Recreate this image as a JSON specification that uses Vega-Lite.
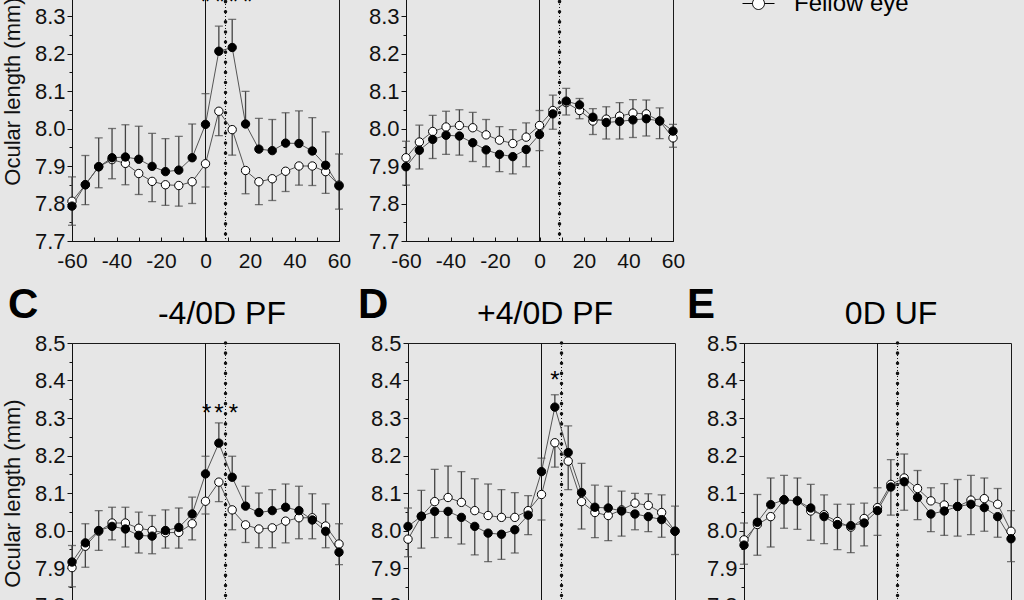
{
"$schema": "https://vega.github.io/schema/vega-lite/v6.json",
"background": "#e6e6e6",
"padding": {"left": 0, "top": -71, "right": 0, "bottom": 0},
"autosize": {"type": "pad"},
"bounds": "flush",
"spacing": 402,
"config": {
  "font": "Liberation Sans",
  "view": {"stroke": "#1a1a1a", "strokeWidth": 1},
  "axis": {"grid": false, "labelOverlap": false, "labelBound": false, "labelFlush": false, "tickCount": 50, "domainColor": "#111", "tickColor": "#111", "labelColor": "#111", "titleColor": "#111", "labelFont": "Liberation Sans", "titleFont": "Liberation Sans", "titleFontWeight": "normal", "domainWidth": 1, "tickWidth": 1}
},
"datasets": {
  "pts": [
    {"p":"A","s":"Fellow eye","x":-60,"m":7.806,"e":7.742},{"p":"A","s":"Fellow eye","x":-54,"m":7.850,"e":7.797},{"p":"A","s":"Fellow eye","x":-48,"m":7.898,"e":7.842},{"p":"A","s":"Fellow eye","x":-42,"m":7.917,"e":7.866},{"p":"A","s":"Fellow eye","x":-36,"m":7.907,"e":7.850},{"p":"A","s":"Fellow eye","x":-30,"m":7.880,"e":7.824},{"p":"A","s":"Fellow eye","x":-24,"m":7.859,"e":7.805},{"p":"A","s":"Fellow eye","x":-18,"m":7.850,"e":7.795},{"p":"A","s":"Fellow eye","x":-12,"m":7.848,"e":7.793},{"p":"A","s":"Fellow eye","x":-6,"m":7.858,"e":7.800},{"p":"A","s":"Fellow eye","x":0,"m":7.906,"e":7.844},{"p":"A","s":"Fellow eye","x":6,"m":8.046,"e":7.981},{"p":"A","s":"Fellow eye","x":12,"m":7.997,"e":7.929},{"p":"A","s":"Fellow eye","x":18,"m":7.888,"e":7.826},{"p":"A","s":"Fellow eye","x":24,"m":7.858,"e":7.797},{"p":"A","s":"Fellow eye","x":30,"m":7.866,"e":7.808},{"p":"A","s":"Fellow eye","x":36,"m":7.886,"e":7.832},{"p":"A","s":"Fellow eye","x":42,"m":7.900,"e":7.849},{"p":"A","s":"Fellow eye","x":48,"m":7.900,"e":7.848},{"p":"A","s":"Fellow eye","x":54,"m":7.885,"e":7.827},{"p":"A","s":"Fellow eye","x":60,"m":7.849,"e":7.785},
    {"p":"A","s":"Treated eye","x":-60,"m":7.793,"e":7.871},{"p":"A","s":"Treated eye","x":-54,"m":7.850,"e":7.928},{"p":"A","s":"Treated eye","x":-48,"m":7.898,"e":7.975},{"p":"A","s":"Treated eye","x":-42,"m":7.922,"e":8.000},{"p":"A","s":"Treated eye","x":-36,"m":7.924,"e":8.010},{"p":"A","s":"Treated eye","x":-30,"m":7.918,"e":8.006},{"p":"A","s":"Treated eye","x":-24,"m":7.899,"e":7.987},{"p":"A","s":"Treated eye","x":-18,"m":7.885,"e":7.973},{"p":"A","s":"Treated eye","x":-12,"m":7.889,"e":7.979},{"p":"A","s":"Treated eye","x":-6,"m":7.922,"e":8.012},{"p":"A","s":"Treated eye","x":0,"m":8.011,"e":8.093},{"p":"A","s":"Treated eye","x":6,"m":8.206,"e":8.273},{"p":"A","s":"Treated eye","x":12,"m":8.216,"e":8.291},{"p":"A","s":"Treated eye","x":18,"m":8.012,"e":8.099},{"p":"A","s":"Treated eye","x":24,"m":7.945,"e":8.027},{"p":"A","s":"Treated eye","x":30,"m":7.941,"e":8.024},{"p":"A","s":"Treated eye","x":36,"m":7.961,"e":8.042},{"p":"A","s":"Treated eye","x":42,"m":7.960,"e":8.047},{"p":"A","s":"Treated eye","x":48,"m":7.940,"e":8.029},{"p":"A","s":"Treated eye","x":54,"m":7.902,"e":7.991},{"p":"A","s":"Treated eye","x":60,"m":7.847,"e":7.932},
    {"p":"B","s":"Fellow eye","x":-60,"m":7.922,"e":7.966},{"p":"B","s":"Fellow eye","x":-54,"m":7.964,"e":8.009},{"p":"B","s":"Fellow eye","x":-48,"m":7.992,"e":8.035},{"p":"B","s":"Fellow eye","x":-42,"m":8.004,"e":8.046},{"p":"B","s":"Fellow eye","x":-36,"m":8.008,"e":8.050},{"p":"B","s":"Fellow eye","x":-30,"m":8.002,"e":8.043},{"p":"B","s":"Fellow eye","x":-24,"m":7.983,"e":8.024},{"p":"B","s":"Fellow eye","x":-18,"m":7.969,"e":8.005},{"p":"B","s":"Fellow eye","x":-12,"m":7.960,"e":7.997},{"p":"B","s":"Fellow eye","x":-6,"m":7.977,"e":8.015},{"p":"B","s":"Fellow eye","x":0,"m":8.008,"e":8.048},{"p":"B","s":"Fellow eye","x":6,"m":8.048,"e":8.089},{"p":"B","s":"Fellow eye","x":12,"m":8.069,"e":8.107},{"p":"B","s":"Fellow eye","x":18,"m":8.048,"e":8.080},{"p":"B","s":"Fellow eye","x":24,"m":8.020,"e":8.053},{"p":"B","s":"Fellow eye","x":30,"m":8.025,"e":8.058},{"p":"B","s":"Fellow eye","x":36,"m":8.033,"e":8.069},{"p":"B","s":"Fellow eye","x":42,"m":8.041,"e":8.077},{"p":"B","s":"Fellow eye","x":48,"m":8.039,"e":8.076},{"p":"B","s":"Fellow eye","x":54,"m":8.020,"e":8.055},{"p":"B","s":"Fellow eye","x":60,"m":7.975,"e":8.011},
    {"p":"B","s":"Treated eye","x":-60,"m":7.898,"e":7.849},{"p":"B","s":"Treated eye","x":-54,"m":7.942,"e":7.892},{"p":"B","s":"Treated eye","x":-48,"m":7.971,"e":7.920},{"p":"B","s":"Treated eye","x":-42,"m":7.982,"e":7.931},{"p":"B","s":"Treated eye","x":-36,"m":7.980,"e":7.929},{"p":"B","s":"Treated eye","x":-30,"m":7.962,"e":7.912},{"p":"B","s":"Treated eye","x":-24,"m":7.943,"e":7.898},{"p":"B","s":"Treated eye","x":-18,"m":7.931,"e":7.885},{"p":"B","s":"Treated eye","x":-12,"m":7.925,"e":7.879},{"p":"B","s":"Treated eye","x":-6,"m":7.944,"e":7.898},{"p":"B","s":"Treated eye","x":0,"m":7.984,"e":7.941},{"p":"B","s":"Treated eye","x":6,"m":8.039,"e":7.998},{"p":"B","s":"Treated eye","x":12,"m":8.073,"e":8.036},{"p":"B","s":"Treated eye","x":18,"m":8.063,"e":8.026},{"p":"B","s":"Treated eye","x":24,"m":8.030,"e":7.984},{"p":"B","s":"Treated eye","x":30,"m":8.016,"e":7.972},{"p":"B","s":"Treated eye","x":36,"m":8.019,"e":7.972},{"p":"B","s":"Treated eye","x":42,"m":8.023,"e":7.976},{"p":"B","s":"Treated eye","x":48,"m":8.026,"e":7.980},{"p":"B","s":"Treated eye","x":54,"m":8.020,"e":7.973},{"p":"B","s":"Treated eye","x":60,"m":7.993,"e":7.950},
    {"p":"C","s":"Fellow eye","x":-60,"m":7.901,"e":7.850},{"p":"C","s":"Fellow eye","x":-54,"m":7.958,"e":7.902},{"p":"C","s":"Fellow eye","x":-48,"m":7.998,"e":7.947},{"p":"C","s":"Fellow eye","x":-42,"m":8.020,"e":8.062},{"p":"C","s":"Fellow eye","x":-36,"m":8.020,"e":8.062},{"p":"C","s":"Fellow eye","x":-30,"m":8.006,"e":8.049},{"p":"C","s":"Fellow eye","x":-24,"m":8.000,"e":8.040},{"p":"C","s":"Fellow eye","x":-18,"m":7.994,"e":7.953},{"p":"C","s":"Fellow eye","x":-12,"m":7.995,"e":7.953},{"p":"C","s":"Fellow eye","x":-6,"m":8.018,"e":7.975},{"p":"C","s":"Fellow eye","x":0,"m":8.078,"e":8.044},{"p":"C","s":"Fellow eye","x":6,"m":8.129,"e":8.077},{"p":"C","s":"Fellow eye","x":12,"m":8.055,"e":8.002},{"p":"C","s":"Fellow eye","x":18,"m":8.015,"e":7.968},{"p":"C","s":"Fellow eye","x":24,"m":8.004,"e":7.954},{"p":"C","s":"Fellow eye","x":30,"m":8.007,"e":7.954},{"p":"C","s":"Fellow eye","x":36,"m":8.025,"e":7.967},{"p":"C","s":"Fellow eye","x":42,"m":8.034,"e":7.978},{"p":"C","s":"Fellow eye","x":48,"m":8.034,"e":8.098},{"p":"C","s":"Fellow eye","x":54,"m":8.012,"e":8.071},{"p":"C","s":"Fellow eye","x":60,"m":7.964,"e":8.018},
    {"p":"C","s":"Treated eye","x":-60,"m":7.916,"e":7.960},{"p":"C","s":"Treated eye","x":-54,"m":7.967,"e":8.018},{"p":"C","s":"Treated eye","x":-48,"m":8.000,"e":8.053},{"p":"C","s":"Treated eye","x":-42,"m":8.011,"e":7.975},{"p":"C","s":"Treated eye","x":-36,"m":8.004,"e":7.956},{"p":"C","s":"Treated eye","x":-30,"m":7.987,"e":7.940},{"p":"C","s":"Treated eye","x":-24,"m":7.985,"e":7.938},{"p":"C","s":"Treated eye","x":-18,"m":8.000,"e":8.055},{"p":"C","s":"Treated eye","x":-12,"m":8.008,"e":8.060},{"p":"C","s":"Treated eye","x":-6,"m":8.044,"e":8.089},{"p":"C","s":"Treated eye","x":0,"m":8.151,"e":8.198},{"p":"C","s":"Treated eye","x":6,"m":8.233,"e":8.287},{"p":"C","s":"Treated eye","x":12,"m":8.142,"e":8.198},{"p":"C","s":"Treated eye","x":18,"m":8.065,"e":8.118},{"p":"C","s":"Treated eye","x":24,"m":8.048,"e":8.100},{"p":"C","s":"Treated eye","x":30,"m":8.053,"e":8.109},{"p":"C","s":"Treated eye","x":36,"m":8.062,"e":8.124},{"p":"C","s":"Treated eye","x":42,"m":8.053,"e":8.118},{"p":"C","s":"Treated eye","x":48,"m":8.028,"e":7.978},{"p":"C","s":"Treated eye","x":54,"m":7.998,"e":7.954},{"p":"C","s":"Treated eye","x":60,"m":7.942,"e":7.909},
    {"p":"D","s":"Fellow eye","x":-60,"m":7.977,"e":7.930},{"p":"D","s":"Fellow eye","x":-54,"m":8.038,"e":8.107},{"p":"D","s":"Fellow eye","x":-48,"m":8.077,"e":8.163},{"p":"D","s":"Fellow eye","x":-42,"m":8.088,"e":8.172},{"p":"D","s":"Fellow eye","x":-36,"m":8.075,"e":8.157},{"p":"D","s":"Fellow eye","x":-30,"m":8.053,"e":8.138},{"p":"D","s":"Fellow eye","x":-24,"m":8.040,"e":8.124},{"p":"D","s":"Fellow eye","x":-18,"m":8.035,"e":8.109},{"p":"D","s":"Fellow eye","x":-12,"m":8.035,"e":8.101},{"p":"D","s":"Fellow eye","x":-6,"m":8.053,"e":8.093},{"p":"D","s":"Fellow eye","x":0,"m":8.096,"e":8.028},{"p":"D","s":"Fellow eye","x":6,"m":8.234,"e":8.169},{"p":"D","s":"Fellow eye","x":12,"m":8.185,"e":8.109},{"p":"D","s":"Fellow eye","x":18,"m":8.077,"e":8.004},{"p":"D","s":"Fellow eye","x":24,"m":8.048,"e":7.981},{"p":"D","s":"Fellow eye","x":30,"m":8.040,"e":7.973},{"p":"D","s":"Fellow eye","x":36,"m":8.055,"e":8.105},{"p":"D","s":"Fellow eye","x":42,"m":8.073,"e":8.099},{"p":"D","s":"Fellow eye","x":48,"m":8.067,"e":8.098},{"p":"D","s":"Fellow eye","x":54,"m":8.048,"e":8.095},{"p":"D","s":"Fellow eye","x":60,"m":7.998,"e":8.065},
    {"p":"D","s":"Treated eye","x":-60,"m":8.011,"e":8.060},{"p":"D","s":"Treated eye","x":-54,"m":8.038,"e":7.953},{"p":"D","s":"Treated eye","x":-48,"m":8.051,"e":7.981},{"p":"D","s":"Treated eye","x":-42,"m":8.051,"e":7.981},{"p":"D","s":"Treated eye","x":-36,"m":8.035,"e":7.964},{"p":"D","s":"Treated eye","x":-30,"m":8.011,"e":7.935},{"p":"D","s":"Treated eye","x":-24,"m":7.993,"e":7.917},{"p":"D","s":"Treated eye","x":-18,"m":7.990,"e":7.923},{"p":"D","s":"Treated eye","x":-12,"m":8.002,"e":7.940},{"p":"D","s":"Treated eye","x":-6,"m":8.041,"e":7.989},{"p":"D","s":"Treated eye","x":0,"m":8.157,"e":8.193},{"p":"D","s":"Treated eye","x":6,"m":8.329,"e":8.362},{"p":"D","s":"Treated eye","x":12,"m":8.208,"e":8.279},{"p":"D","s":"Treated eye","x":18,"m":8.101,"e":8.179},{"p":"D","s":"Treated eye","x":24,"m":8.062,"e":8.121},{"p":"D","s":"Treated eye","x":30,"m":8.060,"e":8.118},{"p":"D","s":"Treated eye","x":36,"m":8.052,"e":7.985},{"p":"D","s":"Treated eye","x":42,"m":8.044,"e":8.002},{"p":"D","s":"Treated eye","x":48,"m":8.037,"e":7.997},{"p":"D","s":"Treated eye","x":54,"m":8.029,"e":7.982},{"p":"D","s":"Treated eye","x":60,"m":7.998,"e":7.936},
    {"p":"E","s":"Fellow eye","x":-60,"m":7.975,"e":8.020},{"p":"E","s":"Fellow eye","x":-54,"m":8.016,"e":7.934},{"p":"E","s":"Fellow eye","x":-48,"m":8.037,"e":7.956},{"p":"E","s":"Fellow eye","x":-42,"m":8.082,"e":8.006},{"p":"E","s":"Fellow eye","x":-36,"m":8.079,"e":8.003},{"p":"E","s":"Fellow eye","x":-30,"m":8.052,"e":7.974},{"p":"E","s":"Fellow eye","x":-24,"m":8.042,"e":8.095},{"p":"E","s":"Fellow eye","x":-18,"m":8.024,"e":8.070},{"p":"E","s":"Fellow eye","x":-12,"m":8.009,"e":7.941},{"p":"E","s":"Fellow eye","x":-6,"m":8.032,"e":8.073},{"p":"E","s":"Fellow eye","x":0,"m":8.061,"e":8.114},{"p":"E","s":"Fellow eye","x":6,"m":8.123,"e":8.189},{"p":"E","s":"Fellow eye","x":12,"m":8.140,"e":8.204},{"p":"E","s":"Fellow eye","x":18,"m":8.112,"e":8.160},{"p":"E","s":"Fellow eye","x":24,"m":8.079,"e":8.114},{"p":"E","s":"Fellow eye","x":30,"m":8.068,"e":8.125},{"p":"E","s":"Fellow eye","x":36,"m":8.064,"e":8.136},{"p":"E","s":"Fellow eye","x":42,"m":8.081,"e":8.147},{"p":"E","s":"Fellow eye","x":48,"m":8.085,"e":8.140},{"p":"E","s":"Fellow eye","x":54,"m":8.070,"e":8.112},{"p":"E","s":"Fellow eye","x":60,"m":7.998,"e":8.053},
    {"p":"E","s":"Treated eye","x":-60,"m":7.961,"e":7.910},{"p":"E","s":"Treated eye","x":-54,"m":8.022,"e":8.096},{"p":"E","s":"Treated eye","x":-48,"m":8.069,"e":8.140},{"p":"E","s":"Treated eye","x":-42,"m":8.082,"e":8.147},{"p":"E","s":"Treated eye","x":-36,"m":8.079,"e":8.140},{"p":"E","s":"Treated eye","x":-30,"m":8.060,"e":8.123},{"p":"E","s":"Treated eye","x":-24,"m":8.037,"e":7.965},{"p":"E","s":"Treated eye","x":-18,"m":8.016,"e":7.949},{"p":"E","s":"Treated eye","x":-12,"m":8.013,"e":8.070},{"p":"E","s":"Treated eye","x":-6,"m":8.020,"e":7.959},{"p":"E","s":"Treated eye","x":0,"m":8.053,"e":7.987},{"p":"E","s":"Treated eye","x":6,"m":8.116,"e":8.041},{"p":"E","s":"Treated eye","x":12,"m":8.130,"e":8.054},{"p":"E","s":"Treated eye","x":18,"m":8.088,"e":8.029},{"p":"E","s":"Treated eye","x":24,"m":8.044,"e":7.997},{"p":"E","s":"Treated eye","x":30,"m":8.052,"e":7.987},{"p":"E","s":"Treated eye","x":36,"m":8.064,"e":7.985},{"p":"E","s":"Treated eye","x":42,"m":8.070,"e":7.989},{"p":"E","s":"Treated eye","x":48,"m":8.061,"e":7.998},{"p":"E","s":"Treated eye","x":54,"m":8.037,"e":7.982},{"p":"E","s":"Treated eye","x":60,"m":7.978,"e":7.917}
  ],
  "stars": [
    {"p":"A","x":0,"y":8.335},{"p":"A","x":6.5,"y":8.335},{"p":"A","x":12.5,"y":8.335},{"p":"A","x":19,"y":8.335},
    {"p":"C","x":0.5,"y":8.311},{"p":"C","x":6,"y":8.311},{"p":"C","x":12.5,"y":8.311},
    {"p":"D","x":6,"y":8.399}
  ],
  "refs": [{"v":0}],
  "fov": [{"v":9}]
},
"resolve": {"scale": {"x": "independent", "y": "independent", "fill": "shared"}},
"vconcat": [
  {"bounds": "flush", "spacing": 67, "hconcat": [
    {"width": 267, "height": 300, "layer": [
      {"data": {"name": "refs"}, "mark": {"type": "rule", "color": "#111", "strokeWidth": 1}, "encoding": {"x": {"field": "v", "type": "quantitative"}}},
      {"data": {"name": "fov"}, "mark": {"type": "rule", "color": "#111", "strokeWidth": 1, "strokeDash": [1, 2]}, "encoding": {"x": {"field": "v", "type": "quantitative"}}},
      {"data": {"name": "fov"}, "mark": {"type": "rule", "color": "#111", "strokeWidth": 3.5, "strokeCap": "round", "strokeDash": [0.1, 10]}, "encoding": {"x": {"field": "v", "type": "quantitative"}}},
      {"data": {"name": "pts"}, "transform": [{"filter": "datum.p == 'A'"}], "mark": {"type": "rule", "color": "#444", "strokeWidth": 1.3},
       "encoding": {
        "x": {"field": "x", "type": "quantitative", "scale": {"domain": [-60, 60], "nice": false, "zero": false}, "axis": {"values": [-60,-50,-40,-30,-20,-10,0,10,20,30,40,50,60], "tickCount": 50, "labelExpr": "datum.value % 20 == 0 ? (datum.value < 0 ? '-' + abs(datum.value) : '' + datum.value) : ''", "labelOverlap": false, "tickSize": -4, "labelPadding": 13, "labelFontSize": 21, "title": null}},
        "y": {"field": "m", "type": "quantitative", "scale": {"domain": [7.7, 8.5], "nice": false, "zero": false}, "axis": {"values": [7.7,7.75,7.8,7.85,7.9,7.95,8.0,8.05,8.1,8.15,8.2,8.25,8.3,8.35,8.4,8.45,8.5], "tickCount": 50, "labelExpr": "abs(datum.value*10 - round(datum.value*10)) < 0.01 ? format(datum.value, '.1f') : ''", "labelOverlap": false, "tickSize": {"condition": {"test": "abs(datum.value*10 - round(datum.value*10)) < 0.01", "value": 5}, "value": 3}, "labelPadding": 2, "labelFontSize": 22, "title": "Ocular length (mm)", "titleFontSize": 22, "titlePadding": 10}},
        "y2": {"field": "e"}}},
      {"data": {"name": "pts"}, "transform": [{"filter": "datum.p == 'A'"}], "mark": {"type": "tick", "orient": "horizontal", "color": "#444", "thickness": 1.3, "size": 8}, "encoding": {"x": {"field": "x", "type": "quantitative"}, "y": {"field": "e", "type": "quantitative"}}},
      {"data": {"name": "pts"}, "transform": [{"filter": "datum.p == 'A'"}], "mark": {"type": "line", "color": "#555", "strokeWidth": 1}, "encoding": {"x": {"field": "x", "type": "quantitative"}, "y": {"field": "m", "type": "quantitative"}, "detail": {"field": "s"}}},
      {"data": {"name": "pts"}, "transform": [{"filter": "datum.p == 'A'"}], "mark": {"type": "point", "shape": "circle", "size": 70, "stroke": "#000", "strokeWidth": 1, "opacity": 1, "filled": true},
       "encoding": {"x": {"field": "x", "type": "quantitative"}, "y": {"field": "m", "type": "quantitative"},
        "fill": {"field": "s", "type": "nominal", "scale": {"domain": ["Treated eye", "Fellow eye"], "range": ["#000000", "#ffffff"]},
          "legend": {"orient": "none", "legendX": 670, "legendY": 13, "title": null, "padding": 0, "rowPadding": 4, "symbolType": "M-1,0H-0.375M0.375,0H1M0.375,0A0.375,0.375,0,1,1,-0.375,0A0.375,0.375,0,1,1,0.375,0Z", "symbolSize": 1024, "symbolStrokeColor": "#000", "symbolStrokeWidth": 1, "labelFontSize": 24, "labelFont": "Liberation Sans", "labelColor": "#000", "labelOffset": 19}}}},
      {"data": {"name": "stars"}, "transform": [{"filter": "datum.p == 'A'"}], "mark": {"type": "text", "text": "*", "fontSize": 24, "baseline": "middle", "align": "center", "color": "#000"}, "encoding": {"x": {"field": "x", "type": "quantitative"}, "y": {"field": "y", "type": "quantitative"}}}
    ]},
    {"width": 267, "height": 300, "layer": [
      {"data": {"name": "refs"}, "mark": {"type": "rule", "color": "#111", "strokeWidth": 1}, "encoding": {"x": {"field": "v", "type": "quantitative"}}},
      {"data": {"name": "fov"}, "mark": {"type": "rule", "color": "#111", "strokeWidth": 1, "strokeDash": [1, 2]}, "encoding": {"x": {"field": "v", "type": "quantitative"}}},
      {"data": {"name": "fov"}, "mark": {"type": "rule", "color": "#111", "strokeWidth": 3.5, "strokeCap": "round", "strokeDash": [0.1, 10]}, "encoding": {"x": {"field": "v", "type": "quantitative"}}},
      {"data": {"name": "pts"}, "transform": [{"filter": "datum.p == 'B'"}], "mark": {"type": "rule", "color": "#444", "strokeWidth": 1.3},
       "encoding": {
        "x": {"field": "x", "type": "quantitative", "scale": {"domain": [-60, 60], "nice": false, "zero": false}, "axis": {"values": [-60,-50,-40,-30,-20,-10,0,10,20,30,40,50,60], "tickCount": 50, "labelExpr": "datum.value % 20 == 0 ? (datum.value < 0 ? '-' + abs(datum.value) : '' + datum.value) : ''", "labelOverlap": false, "tickSize": -4, "labelPadding": 13, "labelFontSize": 21, "title": null}},
        "y": {"field": "m", "type": "quantitative", "scale": {"domain": [7.7, 8.5], "nice": false, "zero": false}, "axis": {"values": [7.7,7.75,7.8,7.85,7.9,7.95,8.0,8.05,8.1,8.15,8.2,8.25,8.3,8.35,8.4,8.45,8.5], "tickCount": 50, "labelExpr": "abs(datum.value*10 - round(datum.value*10)) < 0.01 ? format(datum.value, '.1f') : ''", "labelOverlap": false, "tickSize": {"condition": {"test": "abs(datum.value*10 - round(datum.value*10)) < 0.01", "value": 5}, "value": 3}, "labelPadding": 2, "labelFontSize": 22, "title": null}},
        "y2": {"field": "e"}}},
      {"data": {"name": "pts"}, "transform": [{"filter": "datum.p == 'B'"}], "mark": {"type": "tick", "orient": "horizontal", "color": "#444", "thickness": 1.3, "size": 8}, "encoding": {"x": {"field": "x", "type": "quantitative"}, "y": {"field": "e", "type": "quantitative"}}},
      {"data": {"name": "pts"}, "transform": [{"filter": "datum.p == 'B'"}], "mark": {"type": "line", "color": "#555", "strokeWidth": 1}, "encoding": {"x": {"field": "x", "type": "quantitative"}, "y": {"field": "m", "type": "quantitative"}, "detail": {"field": "s"}}},
      {"data": {"name": "pts"}, "transform": [{"filter": "datum.p == 'B'"}], "mark": {"type": "point", "shape": "circle", "size": 70, "stroke": "#000", "strokeWidth": 1, "opacity": 1, "filled": true},
       "encoding": {"x": {"field": "x", "type": "quantitative"}, "y": {"field": "m", "type": "quantitative"}, "fill": {"field": "s", "type": "nominal"}}}
    ]}
  ]},
  {"bounds": "flush", "spacing": 69, "hconcat": [
    {"width": 267, "height": 300, "layer": [
      {"data": {"name": "refs"}, "mark": {"type": "rule", "color": "#111", "strokeWidth": 1}, "encoding": {"x": {"field": "v", "type": "quantitative"}}},
      {"data": {"name": "fov"}, "mark": {"type": "rule", "color": "#111", "strokeWidth": 1, "strokeDash": [1, 2]}, "encoding": {"x": {"field": "v", "type": "quantitative"}}},
      {"data": {"name": "fov"}, "mark": {"type": "rule", "color": "#111", "strokeWidth": 3.5, "strokeCap": "round", "strokeDash": [0.1, 10]}, "encoding": {"x": {"field": "v", "type": "quantitative"}}},
      {"data": {"name": "pts"}, "transform": [{"filter": "datum.p == 'C'"}], "mark": {"type": "rule", "color": "#444", "strokeWidth": 1.3},
       "encoding": {
        "x": {"field": "x", "type": "quantitative", "scale": {"domain": [-60, 60], "nice": false, "zero": false}, "axis": {"values": [-60,-50,-40,-30,-20,-10,0,10,20,30,40,50,60], "tickCount": 50, "labelExpr": "datum.value % 20 == 0 ? (datum.value < 0 ? '-' + abs(datum.value) : '' + datum.value) : ''", "labelOverlap": false, "tickSize": -4, "labelPadding": 13, "labelFontSize": 21, "title": null}},
        "y": {"field": "m", "type": "quantitative", "scale": {"domain": [7.7, 8.5], "nice": false, "zero": false}, "axis": {"values": [7.7,7.75,7.8,7.85,7.9,7.95,8.0,8.05,8.1,8.15,8.2,8.25,8.3,8.35,8.4,8.45,8.5], "tickCount": 50, "labelExpr": "abs(datum.value*10 - round(datum.value*10)) < 0.01 ? format(datum.value, '.1f') : ''", "labelOverlap": false, "tickSize": {"condition": {"test": "abs(datum.value*10 - round(datum.value*10)) < 0.01", "value": 5}, "value": 3}, "labelPadding": 2, "labelFontSize": 22, "title": "Ocular length (mm)", "titleFontSize": 22, "titlePadding": 10}},
        "y2": {"field": "e"}}},
      {"data": {"name": "pts"}, "transform": [{"filter": "datum.p == 'C'"}], "mark": {"type": "tick", "orient": "horizontal", "color": "#444", "thickness": 1.3, "size": 8}, "encoding": {"x": {"field": "x", "type": "quantitative"}, "y": {"field": "e", "type": "quantitative"}}},
      {"data": {"name": "pts"}, "transform": [{"filter": "datum.p == 'C'"}], "mark": {"type": "line", "color": "#555", "strokeWidth": 1}, "encoding": {"x": {"field": "x", "type": "quantitative"}, "y": {"field": "m", "type": "quantitative"}, "detail": {"field": "s"}}},
      {"data": {"name": "pts"}, "transform": [{"filter": "datum.p == 'C'"}], "mark": {"type": "point", "shape": "circle", "size": 70, "stroke": "#000", "strokeWidth": 1, "opacity": 1, "filled": true},
       "encoding": {"x": {"field": "x", "type": "quantitative"}, "y": {"field": "m", "type": "quantitative"}, "fill": {"field": "s", "type": "nominal"}}},
      {"data": {"name": "stars"}, "transform": [{"filter": "datum.p == 'C'"}], "mark": {"type": "text", "text": "*", "fontSize": 24, "baseline": "middle", "align": "center", "color": "#000"}, "encoding": {"x": {"field": "x", "type": "quantitative"}, "y": {"field": "y", "type": "quantitative"}}},
      {"data": {"values": [{"t": "C"}]}, "mark": {"type": "text", "fontSize": 42, "fontWeight": "bold", "align": "left", "baseline": "alphabetic", "color": "#000"}, "encoding": {"x": {"datum": -88.8}, "y": {"datum": 8.568}, "text": {"field": "t"}}},
      {"data": {"values": [{"t": "-4/0D PF"}]}, "mark": {"type": "text", "fontSize": 32, "align": "center", "baseline": "alphabetic", "color": "#000"}, "encoding": {"x": {"datum": 7.4}, "y": {"datum": 8.551}, "text": {"field": "t"}}}
    ]},
    {"width": 267, "height": 300, "layer": [
      {"data": {"name": "refs"}, "mark": {"type": "rule", "color": "#111", "strokeWidth": 1}, "encoding": {"x": {"field": "v", "type": "quantitative"}}},
      {"data": {"name": "fov"}, "mark": {"type": "rule", "color": "#111", "strokeWidth": 1, "strokeDash": [1, 2]}, "encoding": {"x": {"field": "v", "type": "quantitative"}}},
      {"data": {"name": "fov"}, "mark": {"type": "rule", "color": "#111", "strokeWidth": 3.5, "strokeCap": "round", "strokeDash": [0.1, 10]}, "encoding": {"x": {"field": "v", "type": "quantitative"}}},
      {"data": {"name": "pts"}, "transform": [{"filter": "datum.p == 'D'"}], "mark": {"type": "rule", "color": "#444", "strokeWidth": 1.3},
       "encoding": {
        "x": {"field": "x", "type": "quantitative", "scale": {"domain": [-60, 60], "nice": false, "zero": false}, "axis": {"values": [-60,-50,-40,-30,-20,-10,0,10,20,30,40,50,60], "tickCount": 50, "labelExpr": "datum.value % 20 == 0 ? (datum.value < 0 ? '-' + abs(datum.value) : '' + datum.value) : ''", "labelOverlap": false, "tickSize": -4, "labelPadding": 13, "labelFontSize": 21, "title": null}},
        "y": {"field": "m", "type": "quantitative", "scale": {"domain": [7.7, 8.5], "nice": false, "zero": false}, "axis": {"values": [7.7,7.75,7.8,7.85,7.9,7.95,8.0,8.05,8.1,8.15,8.2,8.25,8.3,8.35,8.4,8.45,8.5], "tickCount": 50, "labelExpr": "abs(datum.value*10 - round(datum.value*10)) < 0.01 ? format(datum.value, '.1f') : ''", "labelOverlap": false, "tickSize": {"condition": {"test": "abs(datum.value*10 - round(datum.value*10)) < 0.01", "value": 5}, "value": 3}, "labelPadding": 2, "labelFontSize": 22, "title": null}},
        "y2": {"field": "e"}}},
      {"data": {"name": "pts"}, "transform": [{"filter": "datum.p == 'D'"}], "mark": {"type": "tick", "orient": "horizontal", "color": "#444", "thickness": 1.3, "size": 8}, "encoding": {"x": {"field": "x", "type": "quantitative"}, "y": {"field": "e", "type": "quantitative"}}},
      {"data": {"name": "pts"}, "transform": [{"filter": "datum.p == 'D'"}], "mark": {"type": "line", "color": "#555", "strokeWidth": 1}, "encoding": {"x": {"field": "x", "type": "quantitative"}, "y": {"field": "m", "type": "quantitative"}, "detail": {"field": "s"}}},
      {"data": {"name": "pts"}, "transform": [{"filter": "datum.p == 'D'"}], "mark": {"type": "point", "shape": "circle", "size": 70, "stroke": "#000", "strokeWidth": 1, "opacity": 1, "filled": true},
       "encoding": {"x": {"field": "x", "type": "quantitative"}, "y": {"field": "m", "type": "quantitative"}, "fill": {"field": "s", "type": "nominal"}}},
      {"data": {"name": "stars"}, "transform": [{"filter": "datum.p == 'D'"}], "mark": {"type": "text", "text": "*", "fontSize": 24, "baseline": "middle", "align": "center", "color": "#000"}, "encoding": {"x": {"field": "x", "type": "quantitative"}, "y": {"field": "y", "type": "quantitative"}}},
      {"data": {"values": [{"t": "D"}]}, "mark": {"type": "text", "fontSize": 42, "fontWeight": "bold", "align": "left", "baseline": "alphabetic", "color": "#000"}, "encoding": {"x": {"datum": -82.5}, "y": {"datum": 8.568}, "text": {"field": "t"}}},
      {"data": {"values": [{"t": "+4/0D PF"}]}, "mark": {"type": "text", "fontSize": 32, "align": "center", "baseline": "alphabetic", "color": "#000"}, "encoding": {"x": {"datum": 1.6}, "y": {"datum": 8.551}, "text": {"field": "t"}}}
    ]},
    {"width": 267, "height": 300, "layer": [
      {"data": {"name": "refs"}, "mark": {"type": "rule", "color": "#111", "strokeWidth": 1}, "encoding": {"x": {"field": "v", "type": "quantitative"}}},
      {"data": {"name": "fov"}, "mark": {"type": "rule", "color": "#111", "strokeWidth": 1, "strokeDash": [1, 2]}, "encoding": {"x": {"field": "v", "type": "quantitative"}}},
      {"data": {"name": "fov"}, "mark": {"type": "rule", "color": "#111", "strokeWidth": 3.5, "strokeCap": "round", "strokeDash": [0.1, 10]}, "encoding": {"x": {"field": "v", "type": "quantitative"}}},
      {"data": {"name": "pts"}, "transform": [{"filter": "datum.p == 'E'"}], "mark": {"type": "rule", "color": "#444", "strokeWidth": 1.3},
       "encoding": {
        "x": {"field": "x", "type": "quantitative", "scale": {"domain": [-60, 60], "nice": false, "zero": false}, "axis": {"values": [-60,-50,-40,-30,-20,-10,0,10,20,30,40,50,60], "tickCount": 50, "labelExpr": "datum.value % 20 == 0 ? (datum.value < 0 ? '-' + abs(datum.value) : '' + datum.value) : ''", "labelOverlap": false, "tickSize": -4, "labelPadding": 13, "labelFontSize": 21, "title": null}},
        "y": {"field": "m", "type": "quantitative", "scale": {"domain": [7.7, 8.5], "nice": false, "zero": false}, "axis": {"values": [7.7,7.75,7.8,7.85,7.9,7.95,8.0,8.05,8.1,8.15,8.2,8.25,8.3,8.35,8.4,8.45,8.5], "tickCount": 50, "labelExpr": "abs(datum.value*10 - round(datum.value*10)) < 0.01 ? format(datum.value, '.1f') : ''", "labelOverlap": false, "tickSize": {"condition": {"test": "abs(datum.value*10 - round(datum.value*10)) < 0.01", "value": 5}, "value": 3}, "labelPadding": 2, "labelFontSize": 22, "title": null}},
        "y2": {"field": "e"}}},
      {"data": {"name": "pts"}, "transform": [{"filter": "datum.p == 'E'"}], "mark": {"type": "tick", "orient": "horizontal", "color": "#444", "thickness": 1.3, "size": 8}, "encoding": {"x": {"field": "x", "type": "quantitative"}, "y": {"field": "e", "type": "quantitative"}}},
      {"data": {"name": "pts"}, "transform": [{"filter": "datum.p == 'E'"}], "mark": {"type": "line", "color": "#555", "strokeWidth": 1}, "encoding": {"x": {"field": "x", "type": "quantitative"}, "y": {"field": "m", "type": "quantitative"}, "detail": {"field": "s"}}},
      {"data": {"name": "pts"}, "transform": [{"filter": "datum.p == 'E'"}], "mark": {"type": "point", "shape": "circle", "size": 70, "stroke": "#000", "strokeWidth": 1, "opacity": 1, "filled": true},
       "encoding": {"x": {"field": "x", "type": "quantitative"}, "y": {"field": "m", "type": "quantitative"}, "fill": {"field": "s", "type": "nominal"}}},
      {"data": {"values": [{"t": "E"}]}, "mark": {"type": "text", "fontSize": 42, "fontWeight": "bold", "align": "left", "baseline": "alphabetic", "color": "#000"}, "encoding": {"x": {"datum": -85.6}, "y": {"datum": 8.568}, "text": {"field": "t"}}},
      {"data": {"values": [{"t": "0D UF"}]}, "mark": {"type": "text", "fontSize": 32, "align": "center", "baseline": "alphabetic", "color": "#000"}, "encoding": {"x": {"datum": 6.1}, "y": {"datum": 8.551}, "text": {"field": "t"}}}
    ]}
  ]}
]
}
